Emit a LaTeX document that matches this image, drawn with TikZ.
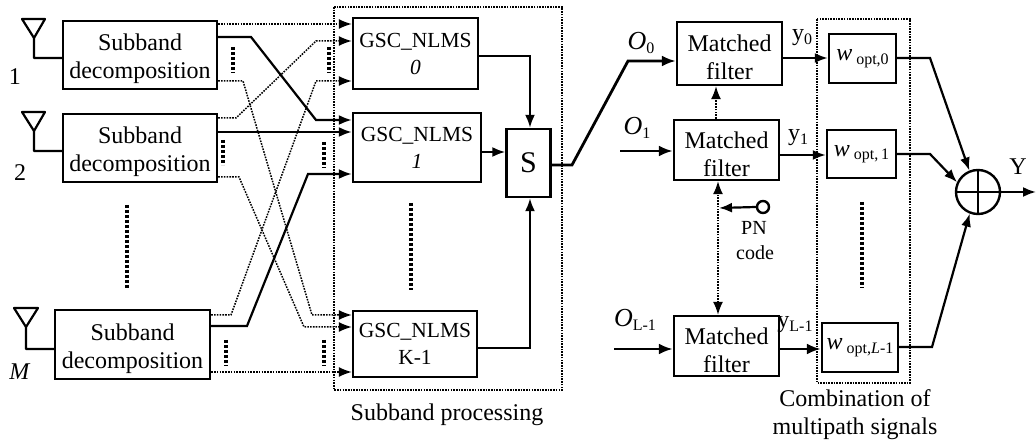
\documentclass[tikz,border=0pt]{standalone}
\usepackage{fontspec}
\setmainfont{Liberation Serif}
\usetikzlibrary{arrows.meta}
\newcommand{\lowtxt}[1]{\raisebox{-3.5pt}{\fontsize{16}{16}\selectfont #1}}
\newcommand{\topgap}{\rule{0pt}{25pt}}
\tikzset{
    gscbox/.style={draw=black, line width=2.4pt, inner sep=0pt, align=center, font=\fontsize{21.5}{27}\selectfont},
    blockbox/.style={gscbox, font=\fontsize{24}{28}\selectfont},
    weightbox/.style={draw=black, line width=2.4pt, inner sep=0pt, font=\fontsize{24}{24}\selectfont},
    txt/.style={inner sep=0pt, align=center, font=\fontsize{24}{28}\selectfont},
    big/.style={inner sep=0pt, font=\fontsize{26}{30}\selectfont},
    solidline/.style={line width=2.2pt, -{Latex[length=13pt,width=10pt]}},
    thickline/.style={line width=2.8pt, -{Latex[length=14pt,width=11pt]}},
    dotline/.style={line width=1.5pt, dash pattern=on 1.6pt off 1.2pt, -{Latex[length=13pt,width=10pt]}},
    plainline/.style={line width=2.2pt},
    frame/.style={line width=1.6pt, dash pattern=on 1.6pt off 1.1pt},
    morebars/.style={line width=3.2pt, dash pattern=on 2.6pt off 2.4pt},
}
\begin{document}
\begin{tikzpicture}[x=1pt, y=-1pt]
    \useasboundingbox (0,0) rectangle (1036,443);

    % left column
    \node[blockbox, minimum width=154pt, minimum height=68pt] (sub1) at (140,55) {\topgap Subband\\decomposition};
    \node[blockbox, minimum width=154pt, minimum height=68pt] (sub2) at (140,148) {\topgap Subband\\decomposition};
    \node[blockbox, minimum width=155pt, minimum height=69pt] (subm) at (132.5,344.5) {\topgap Subband\\decomposition};
    \draw[plainline, line join=round] (sub1.west |- 0,58) -- (34,58) -- (34,38) -- (22,19) -- (45,19) -- (34,38);
    \draw[plainline, line join=round] (sub2.west |- 0,151) -- (34,151) -- (34,131) -- (22,112) -- (45,112) -- (34,131);
    \draw[plainline, line join=round] (subm.west |- 0,349) -- (26,349) -- (26,327) -- (14,308) -- (38,308) -- (26,327);
    \node[txt] (lab1) at (15,77) {1};
    \node[txt] (lab2) at (20,173) {2};
    \node[txt] (labm) at (20,372) {\textit{M}};

    % subband processing
    \node[gscbox, minimum width=125pt, minimum height=71pt] (gsc0) at (415.5,53.5) {GSC\_NLMS\\\textit{0}};
    \node[gscbox, minimum width=128pt, minimum height=69pt] (gsc1) at (417,147.5) {GSC\_NLMS\\\textit{1}};
    \node[gscbox, minimum width=124pt, minimum height=66pt] (gsck) at (415,344) {GSC\_NLMS\\K-1};
    \node[gscbox, font=\fontsize{30}{30}\selectfont, minimum width=44pt, minimum height=68pt] (sel) at (528.5,163) {S};
    \coordinate (frameA) at (334,7);
    \coordinate (frameB) at (562,390);
    \draw[frame] (frameA) rectangle (frameB);
    \node[txt] (subproc) at (447,415) {Subband processing};

    % crossing lines
    \draw[dotline] (sub1.east |- 0,24) -- (gsc0.west |- 0,24);
    \draw[solidline] (sub1.east |- 0,37) -- (251,37) -- (316,120) -- (gsc1.west |- 0,120);
    \draw[dotline] (sub1.east |- 0,81) -- (243,81) -- (312,315) -- (gsck.west |- 0,315);
    \draw[dotline] (sub2.east |- 0,118) -- (236,118) -- (316,41) -- (gsc0.west |- 0,41);
    \draw[solidline] (sub2.east |- 0,132) -- (gsc1.west |- 0,132);
    \draw[dotline] (sub2.east |- 0,177) -- (239,177) -- (304,327) -- (gsck.west |- 0,327);
    \draw[dotline] (subm.east |- 0,315) -- (231,315) -- (316,81) -- (gsc0.west |- 0,81);
    \draw[solidline] (subm.east |- 0,326) -- (247,326) -- (308,174) -- (gsc1.west |- 0,174);
    \draw[dotline] (subm.east |- 0,372) -- (gsck.west |- 0,372);

    \draw[morebars] (233,47) -- (233,73);
    \draw[morebars] (223,140) -- (223,165);
    \draw[morebars] (226,340) -- (226,366);
    \draw[morebars] (329,47) -- (329,73);
    \draw[morebars] (324,142) -- (324,168);
    \draw[morebars] (324,340) -- (324,366);
    \draw[morebars] (127,205) -- (127,289);
    \draw[morebars] (411,203) -- (411,290);

    % into the selector
    \draw[solidline] (gsc0.east |- 0,56) -- (530,56) -- (sel.north -| 530,0);
    \draw[solidline] (gsc1.east |- 0,152) -- (sel.west |- 0,152);
    \draw[solidline] (gsck.east |- 0,348) -- (530,348) -- (sel.south -| 530,0);

    % matched filters
    \node[blockbox, minimum width=105pt, minimum height=63pt] (mf0) at (729.5,53.5) {\topgap Matched\\filter};
    \node[blockbox, minimum width=105pt, minimum height=60pt] (mf1) at (726.5,150) {\topgap Matched\\filter};
    \node[blockbox, minimum width=105pt, minimum height=60pt] (mfl) at (726.5,346) {\topgap Matched\\filter};
    \coordinate (in1) at (620,151);
    \coordinate (inl) at (614,349);
    \draw[thickline] (sel.east |- 0,165) -- (572,165) -- (628,61) -- (mf0.west |- 0,61);
    \draw[thickline] (in1) -- (mf1.west |- in1);
    \draw[thickline] (inl) -- (mfl.west |- inl);
    \node[big] (o0) at (641,43) {\textit{O}\lowtxt{0}};
    \node[big] (o1) at (637,128) {\textit{O}\lowtxt{1}};
    \node[big] (ol) at (635,320) {\textit{O}\lowtxt{L-1}};

    \draw[dotline] (mf1.north -| 716,0) -- (mf0.south -| 716,0);
    \draw[dotline, {Latex[length=13pt,width=10pt]}-{Latex[length=13pt,width=10pt]}] (mfl.north -| 718,0) -- (mf1.south -| 718,0);
    \node[draw=black, line width=2.4pt, circle, minimum size=12pt, inner sep=0pt] (pn) at (763,207) {};
    \draw[solidline] (pn.west) -- (719,208);
    \node[inner sep=0pt, font=\fontsize{20}{20}\selectfont] (pnt) at (754,228) {PN};
    \node[inner sep=0pt, font=\fontsize{20}{20}\selectfont] (codet) at (755,253) {code};

    % weights
    \draw[frame] (817,19) rectangle (910,383);
    \node[weightbox, minimum width=67pt, minimum height=49pt] (wt0) at (862.5,58.5) {\textit{w}\,\lowtxt{opt,0}};
    \node[weightbox, minimum width=69pt, minimum height=48pt] (wt1) at (861.5,154) {\textit{w}\,\lowtxt{opt,\,1}};
    \node[weightbox, minimum width=76pt, minimum height=49pt] (wtl) at (860,347.5) {\textit{w}\,\lowtxt{opt,\textit{L}-1}};
    \draw[solidline] (mf0.east |- 0,58) -- (wt0.west |- 0,58);
    \draw[solidline] (mf1.east |- 0,155) -- (wt1.west |- 0,155);
    \draw[thickline] (mfl.east |- 0,349) -- (wtl.west |- 0,349);
    \node[txt] (y0) at (802,38) {y\lowtxt{0}};
    \node[txt] (y1) at (798,138) {y\lowtxt{1}};
    \node[txt] (yl) at (795,325) {y\lowtxt{L-1}};
    \draw[morebars] (862,202) -- (862,288);
    \node[txt] (combi) at (855,415) {Combination of\\multipath signals};

    % summation
    \node[draw=black, line width=2.4pt, circle, minimum size=44pt, inner sep=0pt] (sum) at (978,192) {};
    \draw[plainline] (sum.north) -- (sum.south);
    \draw[plainline] (sum.west) -- (sum.east);
    \coordinate (outy) at (1036,192);
    \draw[solidline] (wt0.east |- 0,58) -- (930,58) -- (sum.112);
    \draw[solidline] (wt1.east |- 0,154) -- (930,154) -- (sum.155);
    \draw[solidline] (wtl.east |- 0,347) -- (932,347) -- (sum.249);
    \draw[solidline] (sum.east) -- (outy);
    \node[txt] (ylab) at (1018,167) {Y};
\end{tikzpicture}
\end{document}
